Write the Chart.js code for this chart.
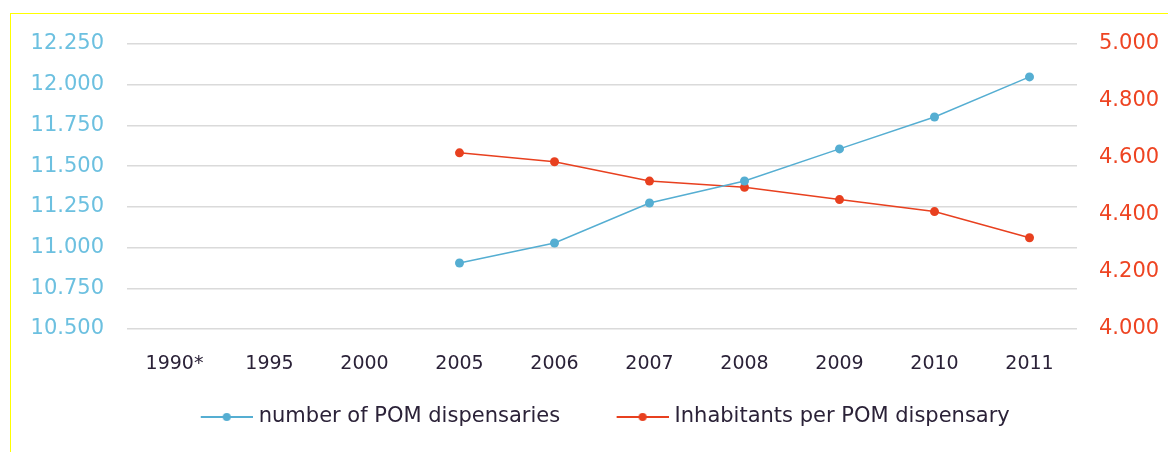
<!DOCTYPE html>
<html>
<head>
<meta charset="utf-8">
<script src="https://cdn.jsdelivr.net/npm/chart.js@4.4.0/dist/chart.umd.min.js"></script>
<style>
    html, body { margin: 0; padding: 0; background: #fff; }
    #quadro { position: absolute; left: 10px; top: 13px; right: 0; bottom: 0; border-left: 1px solid #ffff00; border-top: 1px solid #ffff00; }
    #grafico { position: absolute; left: 0; top: 0; width: 1168px; height: 452px; }
</style>
</head>
<body>
<div id="quadro"></div>
<div id="grafico"><canvas id="graficoPom"></canvas></div>
<script>
// Dados
const anos = ['1990*', '1995', '2000', '2005', '2006', '2007', '2008', '2009', '2010', '2011'];
const numeroDispensarios = [null, null, null, 10905, 11028, 11274, 11409, 11606, 11802, 12048];
const habitantesPorDispensario = [null, null, null, 4618, 4587, 4519, 4497, 4454, 4412, 4320];

const corAzul = '#55aed2';
const corVermelha = '#e8401f';
const fonte = 'DejaVu Sans';
const larguraCaixa = 71;

function formatarMilhar(valor) {
    return String(valor).replace(/\B(?=(\d{3})+(?!\d))/g, '.');
}

// icone da legenda: linha com ponto no meio, encostada à direita
function iconeLegenda(cor) {
    const c = document.createElement('canvas');
    c.width = larguraCaixa + 9;
    c.height = 10;
    const ctx = c.getContext('2d');
    const ini = c.width - 52;
    ctx.strokeStyle = cor;
    ctx.lineWidth = 2;
    ctx.beginPath();
    ctx.moveTo(ini, 5);
    ctx.lineTo(c.width, 5);
    ctx.stroke();
    ctx.fillStyle = cor;
    ctx.beginPath();
    ctx.arc(ini + 26, 5, 4, 0, Math.PI * 2);
    ctx.fill();
    return c;
}

new Chart(document.getElementById('graficoPom'), {
    type: 'line',
    data: {
        labels: anos,
        datasets: [{
            label: 'number of POM dispensaries',
            data: numeroDispensarios,
            yAxisID: 'y',
            borderColor: corAzul,
            backgroundColor: corAzul,
            borderWidth: 1.5,
            pointRadius: 4.5,
            pointBorderWidth: 0
        }, {
            label: 'Inhabitants per POM dispensary',
            data: habitantesPorDispensario,
            yAxisID: 'y1',
            borderColor: corVermelha,
            backgroundColor: corVermelha,
            borderWidth: 1.5,
            pointRadius: 4.5,
            pointBorderWidth: 0
        }]
    },
    options: {
        responsive: true,
        maintainAspectRatio: false,
        animation: false,
        layout: { padding: { left: 19, right: 0, top: 44, bottom: 14.5 } },
        plugins: {
            tooltip: { enabled: false },
            legend: {
                position: 'bottom',
                labels: {
                    usePointStyle: true,
                    pointStyleWidth: larguraCaixa,
                    padding: 33,
                    color: '#2b2238',
                    font: { family: fonte, size: 21 },
                    generateLabels: (chart) => chart.data.datasets.map((ds, i) => ({
                        text: ds.label,
                        pointStyle: iconeLegenda(ds.borderColor),
                        fillStyle: ds.borderColor,
                        strokeStyle: ds.borderColor,
                        lineWidth: 0,
                        fontColor: '#2b2238',
                        hidden: false,
                        datasetIndex: i
                    }))
                }
            }
        },
        scales: {
            x: {
                offset: true,
                grid: { display: false, drawTicks: false },
                border: { display: false },
                ticks: { color: '#2b2238', padding: 24, font: { family: fonte, size: 19 }, maxRotation: 0 },
                afterFit: (scale) => { scale.height = 44.5; }
            },
            y: {
                position: 'left',
                min: 10500,
                max: 12250,
                grid: { color: '#dadada', lineWidth: 1.5, drawTicks: false },
                border: { display: false },
                ticks: {
                    stepSize: 250,
                    padding: 23,
                    color: '#6cc0e0',
                    font: { family: fonte, size: 21 },
                    callback: (v) => formatarMilhar(v)
                },
                afterFit: (scale) => { scale.width = 108; }
            },
            y1: {
                position: 'right',
                min: 4000,
                max: 5000,
                grid: { display: false, drawTicks: false },
                border: { display: false },
                ticks: {
                    stepSize: 200,
                    padding: 22,
                    color: '#ee4422',
                    font: { family: fonte, size: 21 },
                    callback: (v) => formatarMilhar(v)
                },
                afterFit: (scale) => { scale.width = 91; }
            }
        }
    }
});
</script>
</body>
</html>
